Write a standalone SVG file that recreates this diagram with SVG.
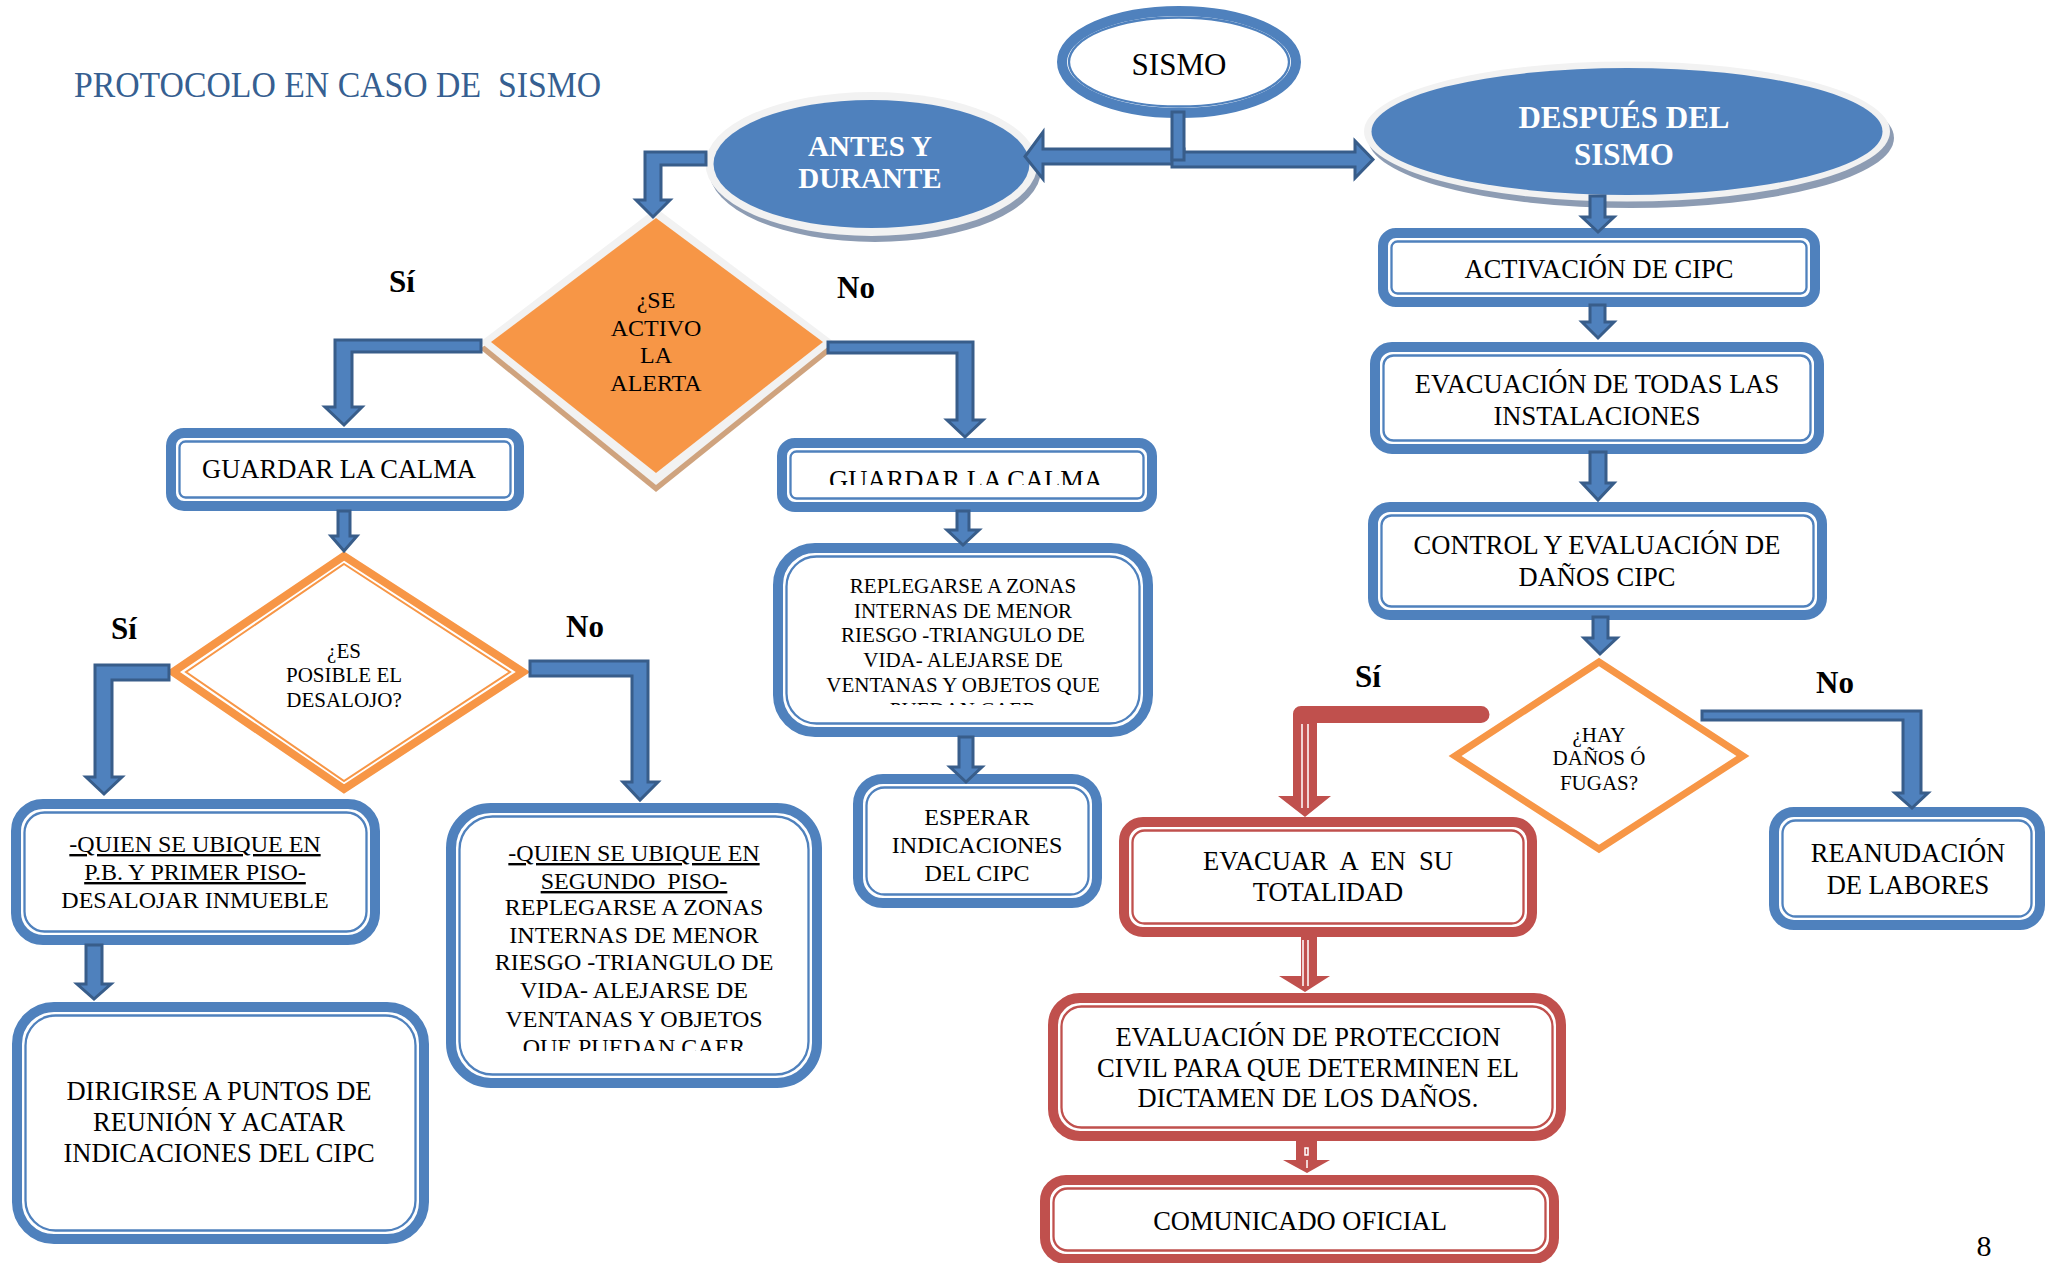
<svg xmlns="http://www.w3.org/2000/svg" width="2049" height="1263" viewBox="0 0 2049 1263">
<defs>
<style>
text { font-family: "Liberation Serif", "Times New Roman", serif; fill: #000; }
.t { text-anchor: middle; font-size: 26.5px; }
.s24 { font-size: 24px; }
.s21 { font-size: 21px; }
.s31 { font-size: 31px; }
.wb { fill: #fff; font-weight: bold; }
.title { fill: #365f91; font-size: 35px; }
.lbl { font-weight: bold; font-size: 31px; text-anchor: middle; }
.u { text-decoration: underline; }
.bo { fill: #fff; stroke: #4f81bd; stroke-width: 10; }
.bi { fill: none; stroke: #4f81bd; stroke-width: 2.3; }
.ro { fill: #fff; stroke: #c0504d; stroke-width: 10; }
.ri { fill: none; stroke: #c0504d; stroke-width: 2.3; }
.bc { fill: #4f81bd; stroke: #385d8a; stroke-width: 3; stroke-linejoin: miter; }
.rc { fill: #c0504d; }
.rw { stroke: #fff; stroke-width: 1.5; fill: none; }
.pg { font-size: 30px; text-anchor: middle; }
</style>
<clipPath id="clipG"><rect x="780" y="440" width="375" height="45"/></clipPath>
<clipPath id="clipR"><rect x="780" y="690" width="370" height="15"/></clipPath>
<clipPath id="clipS"><rect x="450" y="1030" width="370" height="21"/></clipPath>
</defs>
<rect x="0" y="0" width="2049" height="1263" fill="#fff"/>

<text id="title" class="title" x="74" y="97" textLength="527" lengthAdjust="spacingAndGlyphs" xml:space="preserve">PROTOCOLO EN CASO DE  SISMO</text>

<g id="n-sismo">
<ellipse cx="1179" cy="62" rx="117" ry="51" class="bo"/>
<ellipse cx="1179" cy="62" rx="110" ry="44.5" class="bi"/>
<text class="t s31" x="1179" y="75">SISMO</text>
</g>

<g id="n-antes">
<ellipse cx="875" cy="170" rx="166" ry="72" fill="#8d9cb3"/>
<ellipse cx="871.5" cy="164" rx="166" ry="72" fill="#f2f2f2"/>
<ellipse cx="871.5" cy="164" rx="158" ry="64" fill="#4f81bd"/>
<text class="t wb" style="font-size:29px" x="870" y="156">ANTES Y</text>
<text class="t wb" style="font-size:29px" x="870" y="188">DURANTE</text>
</g>

<g id="n-despues">
<ellipse cx="1631" cy="138" rx="263" ry="70" fill="#8d9cb3"/>
<ellipse cx="1627" cy="131.5" rx="263" ry="70" fill="#f2f2f2"/>
<ellipse cx="1627" cy="131.5" rx="255.5" ry="63.5" fill="#4f81bd"/>
<text class="t wb s31" x="1624" y="128">DESPUÉS DEL</text>
<text class="t wb s31" x="1624" y="165">SISMO</text>
</g>

<g id="n-alerta">
<polygon points="656,215 834,349 656,492 480,349" fill="#cfa37e"/>
<polygon points="656,208 834,342 656,485 480,342" fill="#f2f2f2"/>
<polygon points="656,218 823,342 656,473 491,342" fill="#f79646"/>
<text class="t s24" x="656" y="308">¿SE</text>
<text class="t s24" x="656" y="336">ACTIVO</text>
<text class="t s24" x="656" y="363">LA</text>
<text class="t s24" x="656" y="391">ALERTA</text>
</g>

<g id="n-calma1">
<rect x="171" y="433" width="348" height="73" rx="13" class="bo"/>
<rect x="179.5" y="441.5" width="331" height="56" rx="6" class="bi"/>
<text class="t" x="339" y="478">GUARDAR LA CALMA</text>
</g>

<g id="n-calma2">
<rect x="782" y="443" width="370" height="64" rx="13" class="bo"/>
<rect x="790.5" y="451.5" width="353" height="47" rx="6" class="bi"/>
<text class="t" x="966" y="489" clip-path="url(#clipG)">GUARDAR LA CALMA</text>
</g>

<g id="n-desalojo">
<polygon points="344,556 523,672 344,789 173,672" fill="#fff" stroke="#f79646" stroke-width="8"/>
<polygon points="344,564 510,672 344,781 186,672" fill="none" stroke="#f79646" stroke-width="2"/>
<text class="t s21" x="344" y="658">¿ES</text>
<text class="t s21" x="344" y="682">POSIBLE EL</text>
<text class="t s21" x="344" y="707">DESALOJO?</text>
</g>

<g id="n-replegarse">
<rect x="778" y="548" width="370" height="184" rx="37" class="bo"/>
<rect x="786.5" y="556.5" width="353" height="167" rx="30" class="bi"/>
<text class="t s21" x="963" y="593">REPLEGARSE A ZONAS</text>
<text class="t s21" x="963" y="617.7">INTERNAS DE MENOR</text>
<text class="t s21" x="963" y="642.4">RIESGO -TRIANGULO DE</text>
<text class="t s21" x="963" y="667.1">VIDA- ALEJARSE DE</text>
<text class="t s21" x="963" y="691.8">VENTANAS Y OBJETOS QUE</text>
<text class="t s21" x="963" y="716.5" clip-path="url(#clipR)">PUEDAN CAER</text>
</g>

<g id="n-esperar">
<rect x="858" y="779" width="239" height="124" rx="25" class="bo"/>
<rect x="866.5" y="787.5" width="222" height="107" rx="18" class="bi"/>
<text class="t s24" x="977" y="825">ESPERAR</text>
<text class="t s24" x="977" y="853">INDICACIONES</text>
<text class="t s24" x="977" y="881">DEL CIPC</text>
</g>

<g id="n-pb">
<rect x="16" y="804" width="359" height="136" rx="27" class="bo"/>
<rect x="24.5" y="812.5" width="342" height="119" rx="20" class="bi"/>
<text class="t s24 u" x="195" y="852">-QUIEN SE UBIQUE EN</text>
<text class="t s24 u" x="195" y="880">P.B. Y PRIMER PISO-</text>
<text class="t s24" x="195" y="908">DESALOJAR INMUEBLE</text>
</g>

<g id="n-dirigirse">
<rect x="17" y="1007" width="407" height="232" rx="37" class="bo"/>
<rect x="25.5" y="1015.5" width="390" height="215" rx="30" class="bi"/>
<text class="t" x="219" y="1100">DIRIGIRSE A PUNTOS DE</text>
<text class="t" x="219" y="1131">REUNIÓN Y ACATAR</text>
<text class="t" x="219" y="1162">INDICACIONES DEL CIPC</text>
</g>

<g id="n-segundo">
<rect x="451" y="808" width="366" height="275" rx="40" class="bo"/>
<rect x="459.5" y="816.5" width="349" height="258" rx="33" class="bi"/>
<text class="t s24 u" x="634" y="861">-QUIEN SE UBIQUE EN</text>
<text class="t s24 u" x="634" y="889" xml:space="preserve">SEGUNDO  PISO-</text>
<text class="t s24" x="634" y="915">REPLEGARSE A ZONAS</text>
<text class="t s24" x="634" y="943">INTERNAS DE MENOR</text>
<text class="t s24" x="634" y="970">RIESGO -TRIANGULO DE</text>
<text class="t s24" x="634" y="998">VIDA- ALEJARSE DE</text>
<text class="t s24" x="634" y="1027">VENTANAS Y OBJETOS</text>
<text class="t s24" x="634" y="1054.5" clip-path="url(#clipS)">QUE PUEDAN CAER</text>
</g>

<g id="n-activacion">
<rect x="1383" y="233" width="432" height="69" rx="13" class="bo"/>
<rect x="1391.5" y="241.5" width="415" height="52" rx="6" class="bi"/>
<text class="t" x="1599" y="278">ACTIVACIÓN DE CIPC</text>
</g>

<g id="n-evacuacion">
<rect x="1375" y="347" width="444" height="102" rx="17" class="bo"/>
<rect x="1383.5" y="355.5" width="427" height="85" rx="10" class="bi"/>
<text class="t" x="1597" y="393">EVACUACIÓN DE TODAS LAS</text>
<text class="t" x="1597" y="425">INSTALACIONES</text>
</g>

<g id="n-control">
<rect x="1373" y="507" width="449" height="108" rx="17" class="bo"/>
<rect x="1381.5" y="515.5" width="432" height="91" rx="10" class="bi"/>
<text class="t" x="1597" y="554">CONTROL Y EVALUACIÓN DE</text>
<text class="t" x="1597" y="586">DAÑOS CIPC</text>
</g>

<g id="n-danos">
<polygon points="1599,662 1743,756 1599,849 1455,756" fill="#fff" stroke="#f79646" stroke-width="7"/>
<text class="t s21" x="1599" y="742">¿HAY</text>
<text class="t s21" x="1599" y="765">DAÑOS Ó</text>
<text class="t s21" x="1599" y="790">FUGAS?</text>
</g>

<g id="n-reanudacion">
<rect x="1774" y="812" width="266" height="113" rx="20" class="bo"/>
<rect x="1782.5" y="820.5" width="249" height="96" rx="13" class="bi"/>
<text class="t" x="1908" y="862">REANUDACIÓN</text>
<text class="t" x="1908" y="894">DE LABORES</text>
</g>

<g id="n-evacuar">
<rect x="1124" y="822" width="408" height="110" rx="19" class="ro"/>
<rect x="1132.5" y="830.5" width="391" height="93" rx="12" class="ri"/>
<text class="t" x="1328" y="870" xml:space="preserve">EVACUAR  A  EN  SU</text>
<text class="t" x="1328" y="901">TOTALIDAD</text>
</g>

<g id="n-evaluacion">
<rect x="1053" y="998" width="508" height="138" rx="27" class="ro"/>
<rect x="1061.5" y="1006.5" width="491" height="121" rx="20" class="ri"/>
<text class="t" x="1308" y="1046">EVALUACIÓN DE PROTECCION</text>
<text class="t" x="1308" y="1077">CIVIL PARA QUE DETERMINEN EL</text>
<text class="t" x="1308" y="1107">DICTAMEN DE LOS DAÑOS.</text>
</g>

<g id="n-comunicado">
<rect x="1045" y="1180" width="509" height="79" rx="21" class="ro"/>
<rect x="1053.5" y="1188.5" width="492" height="62" rx="14" class="ri"/>
<text class="t" x="1300" y="1230">COMUNICADO OFICIAL</text>
</g>

<g id="labels">
<text class="lbl" x="402" y="292">Sí</text>
<text class="lbl" x="856" y="298">No</text>
<text class="lbl" x="124" y="639">Sí</text>
<text class="lbl" x="585" y="637">No</text>
<text class="lbl" x="1368" y="687">Sí</text>
<text class="lbl" x="1835" y="693">No</text>
</g>

<g id="connectors">
<path class="bc" d="M1184,149 H1043 V132 L1025,156.5 L1043,179 V164 H1184 Z"/>
<path class="bc" d="M1172,152 H1355 V141 L1373,159.5 L1355,178 V167 H1172 Z"/>
<path class="bc" d="M1172,112 H1184 V160 H1172 Z"/>
<path class="bc" d="M706,152 H645 V200 H636 L653,217 L670,200 H661 V165 H706 Z"/>
<path class="bc" d="M481,340 H335 V407 H325 L344,425 L362,407 H352 V352 H481 Z"/>
<path class="bc" d="M828,342 H973 V420 H983 L965,437 L947,420 H957 V353 H828 Z"/>
<path class="bc" d="M338,511 V536 H331 L344,551 L357,536 H350 V511 Z"/>
<path class="bc" d="M169,665 H95 V777 H86 L104,794 L122,777 H112 V680 H169 Z"/>
<path class="bc" d="M530,661 H648 V782 H658 L640,800 L623,782 H632 V676 H530 Z"/>
<path class="bc" d="M86,945 V984 H77 L94,999 L111,984 H102 V945 Z"/>
<path class="bc" d="M957,511 V530 H947 L963,545 L979,530 H969 V511 Z"/>
<path class="bc" d="M959,737 V767 H950 L966,782 L982,767 H973 V737 Z"/>
<path class="bc" d="M1590,196 V217 H1582 L1598,232 L1614,217 H1605 V196 Z"/>
<path class="bc" d="M1590,305 V322 H1582 L1598,338 L1614,322 H1605 V305 Z"/>
<path class="bc" d="M1590,452 V483 H1582 L1598,500 L1614,483 H1606 V452 Z"/>
<path class="bc" d="M1593,617 V638 H1584 L1600,654 L1617,638 H1608 V617 Z"/>
<path class="bc" d="M1702,711 H1921 V793 H1928 L1912,808 L1895,793 H1903 V720 H1702 Z"/>
<path class="rc" d="M1301,706 H1481 A8.5,8.5 0 0 1 1481,723 H1317 V796 H1331 L1305,817 L1278,796 H1293 V714 A8,8 0 0 1 1301,706 Z"/>
<path class="rw" d="M1302,724 V808 M1308,724 V808"/>
<path class="rc" d="M1301,937 V976 H1279 L1305,992 L1330,976 H1317 V937 Z"/>
<path class="rw" d="M1303,940 V986 M1308,940 V986"/>
<path class="rc" d="M1296,1141 V1160 H1283 L1307,1173 L1330,1160 H1317 V1141 Z"/>
<path class="rw" d="M1305,1148 h3 v7 h-3 Z M1307,1160 V1168"/>
</g>

<text id="page" class="pg" x="1984" y="1256">8</text>
</svg>
